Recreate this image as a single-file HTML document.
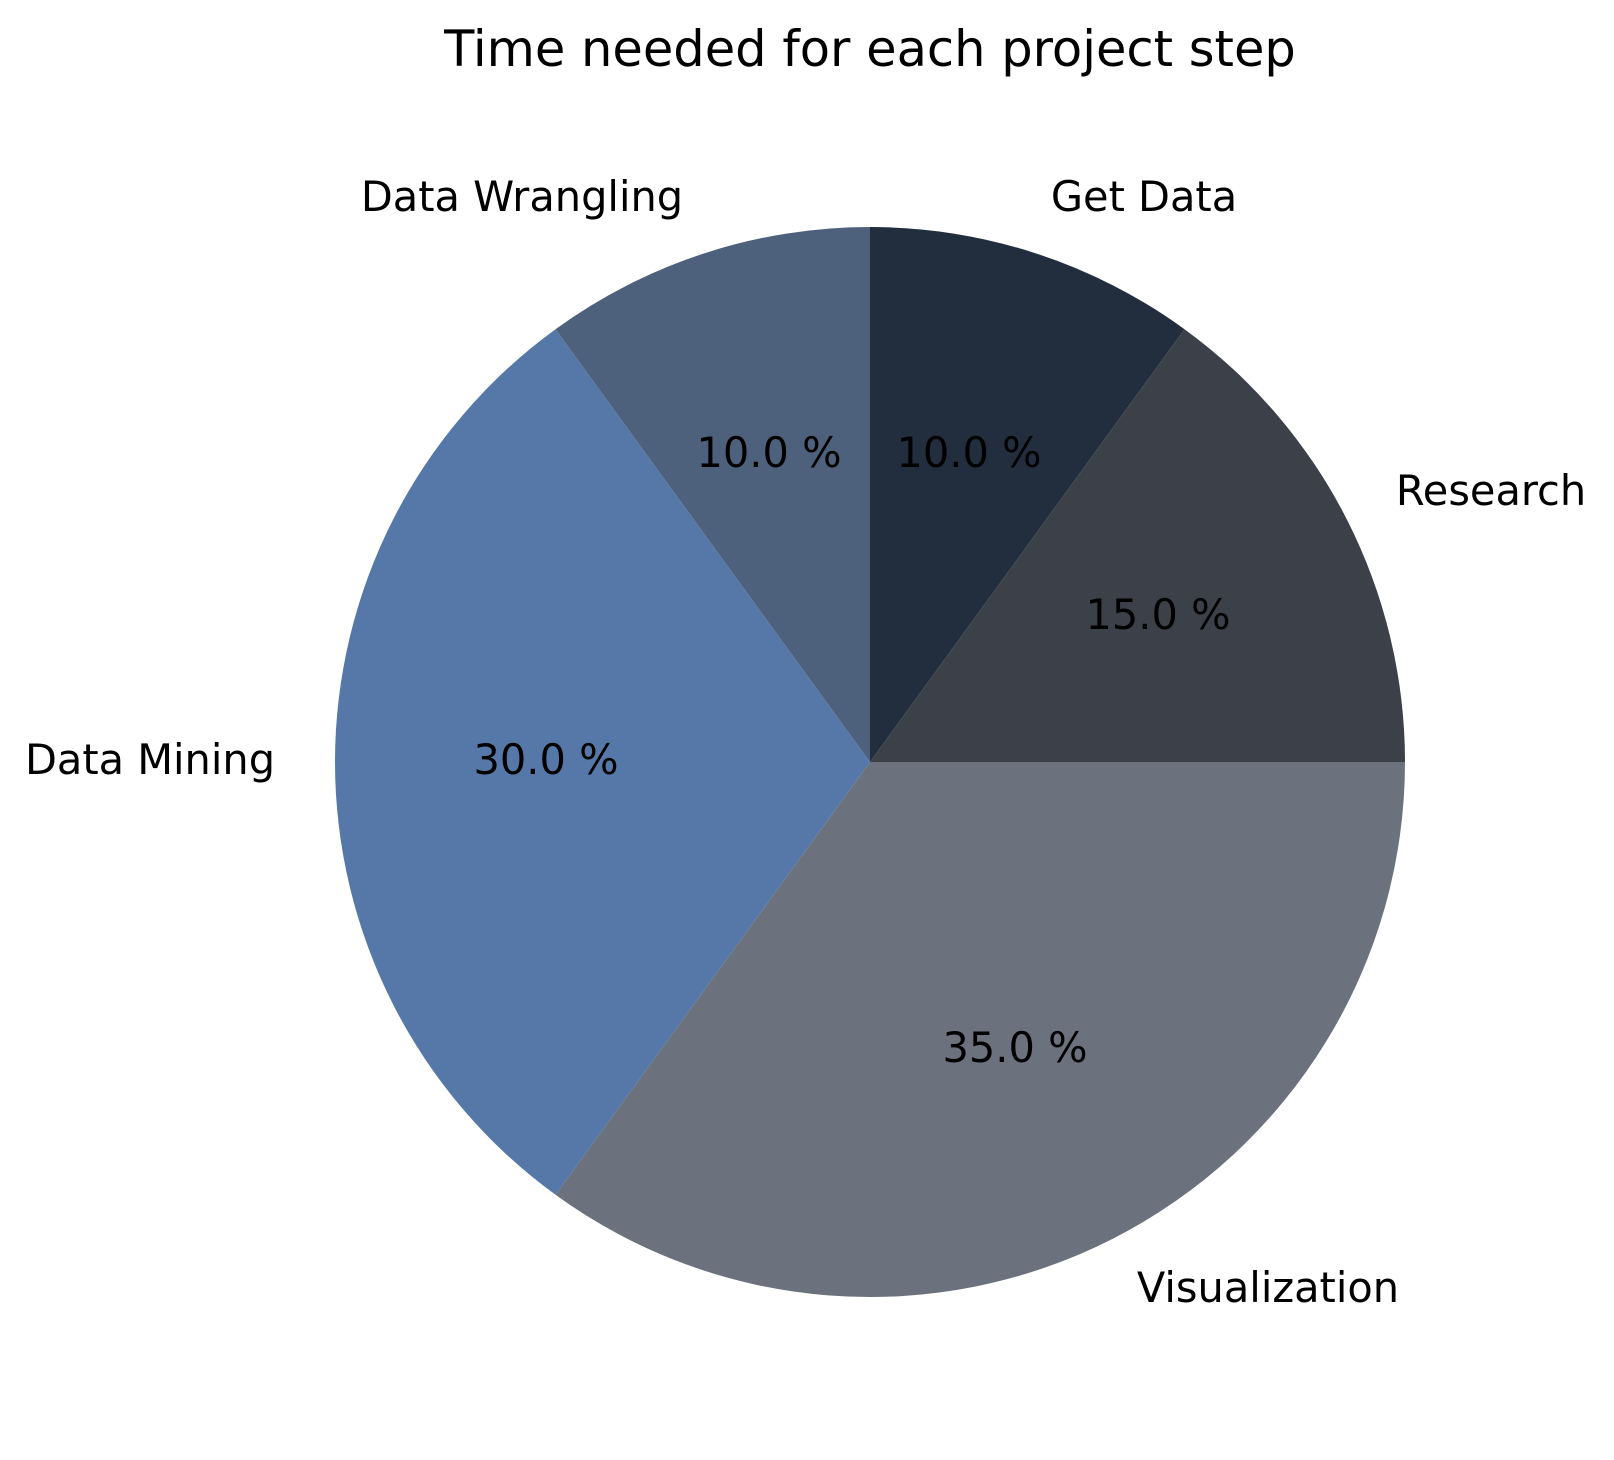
<!DOCTYPE html>
<html><head><meta charset="utf-8"><style>html,body{margin:0;padding:0;background:#fff}svg{display:block}</style></head>
<body>
<svg width="1614" height="1460" viewBox="0 0 1614 1460" xmlns="http://www.w3.org/2000/svg" font-family="'DejaVu Sans','Liberation Sans',sans-serif">
<rect width="1614" height="1460" fill="#fff"/>
<path d="M870,762 L870,227 A535,535 0 0 1 1184.5,329.2 Z" fill="#222d3e"/>
<path d="M870,762 L1184.5,329.2 A535,535 0 0 1 1405,762 Z" fill="#3c4149"/>
<path d="M870,762 L1405,762 A535,535 0 0 1 555.5,1194.8 Z" fill="#6b727d"/>
<path d="M870,762 L555.5,1194.8 A535,535 0 0 1 555.5,329.2 Z" fill="#5578a8"/>
<path d="M870,762 L555.5,329.2 A535,535 0 0 1 870,227 Z" fill="#4e617c"/>
<text x="870" y="66" font-size="49.5" text-anchor="middle">Time needed for each project step</text>
<g font-size="41.5" text-anchor="middle" fill="#000" transform="translate(-5,-4)">
<text x="527" y="215">Data Wrangling</text>
<text x="1149" y="215">Get Data</text>
<text x="1496" y="509">Research</text>
<text x="155" y="778">Data Mining</text>
<text x="1273" y="1306">Visualization</text>
<text x="774" y="471">10.0 %</text>
<text x="974" y="471">10.0 %</text>
<text x="1163" y="633">15.0 %</text>
<text x="551" y="778">30.0 %</text>
<text x="1020" y="1066">35.0 %</text>
</g>
</svg>
</body></html>
